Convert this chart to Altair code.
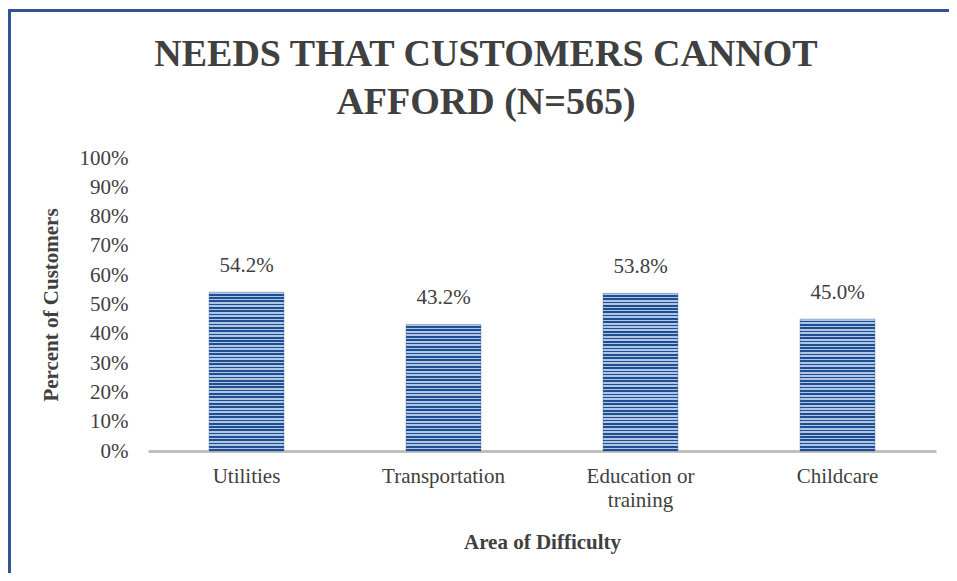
import altair as alt
import pandas as pd

categories = ["Utilities", "Transportation", "Education or training", "Childcare"]
values = [0.542, 0.432, 0.538, 0.450]
title_lines = ["NEEDS THAT CUSTOMERS CANNOT", "AFFORD (N=565)"]
y_ticks = [0, 0.1, 0.2, 0.3, 0.4, 0.5, 0.6, 0.7, 0.8, 0.9, 1.0]

W, H = 788, 293
DARK = "#1F4E91"
LIGHT = "#B1C6E6"
TXT = "#404040"
FONT = "Liberation Serif"

df = pd.DataFrame({"cat": categories, "val": values})


def stripes(n):
    stops = []
    for i in range(n):
        a, m, b = i / n, (i + 0.5) / n, (i + 1) / n
        stops += [
            {"offset": a, "color": LIGHT},
            {"offset": m, "color": LIGHT},
            {"offset": m, "color": DARK},
            {"offset": b, "color": DARK},
        ]
    return {"gradient": "linear", "x1": 0, "y1": 0, "x2": 0, "y2": 1, "stops": stops}


conds = []
for c, v in zip(categories, values):
    n = max(1, round(v * H / 3.3))
    conds.append({"test": f"datum.cat === '{c}'", "value": stripes(n)})

x_enc = alt.X(
    "cat:N",
    sort=categories,
    scale=alt.Scale(paddingInner=0.62, paddingOuter=0.31),
    axis=alt.Axis(
        title="Area of Difficulty",
        labelAngle=0,
        labelExpr="datum.label == 'Education or training' ? ['Education or', 'training'] : datum.label",
        labelLineHeight=24,
        labelPadding=14,
        ticks=False,
        domainColor="#BFBFBF",
        domainWidth=3,
        titlePadding=21,
    ),
)
y_enc = alt.Y(
    "val:Q",
    scale=alt.Scale(domain=[0, 1], nice=False),
    axis=alt.Axis(
        title="Percent of Customers",
        format=".0%",
        values=y_ticks,
        tickCount=11,
        labelOverlap=False,
        labelSeparation=0,
        grid=False,
        ticks=False,
        domain=False,
        labelPadding=20,
        titlePadding=18,
    ),
)

bars = alt.Chart(df).mark_bar(stroke=DARK, strokeWidth=0.6, strokeOpacity=0.6).encode(
    x=x_enc,
    y=y_enc,
    fill=alt.value(stripes(50), condition=conds),
)

labels = alt.Chart(df).mark_text(
    dy=-16, baseline="bottom", fontSize=21, font=FONT, color=TXT
).encode(
    x=x_enc,
    y=y_enc,
    text=alt.Text("val:Q", format=".1%"),
)

title = alt.Chart(alt.Data(values=[{"t": 1}])).mark_text(
    text=title_lines,
    lineHeight=48,
    fontSize=38,
    fontWeight="bold",
    font=FONT,
    color=TXT,
    align="center",
    baseline="alphabetic",
).encode(x=alt.value(338), y=alt.value(-92))

frame = alt.Chart(alt.Data(values=[{"t": 1}])).mark_rect(
    fill="transparent", stroke="#2F5597", strokeWidth=3
).encode(
    x=alt.value(-138.5), x2=alt.value(W + 300), y=alt.value(-147.5), y2=alt.value(H + 300)
)

chart = (
    alt.layer(frame, bars, labels, title)
    .properties(
        width=W,
        height=H,
        autosize=alt.AutoSizeParams(type="none"),
        padding={"left": 140, "top": 150, "right": 13, "bottom": 122},
    )
    .configure_view(stroke=None)
    .configure_axis(
        labelFont=FONT,
        labelFontSize=21,
        labelColor=TXT,
        titleFont=FONT,
        titleFontSize=21,
        titleFontWeight="bold",
        titleColor=TXT,
    )
    .configure_axisY(labelOverlap=False)
)

chart.save("out.html", embed_options={"renderer": "svg", "actions": False})
